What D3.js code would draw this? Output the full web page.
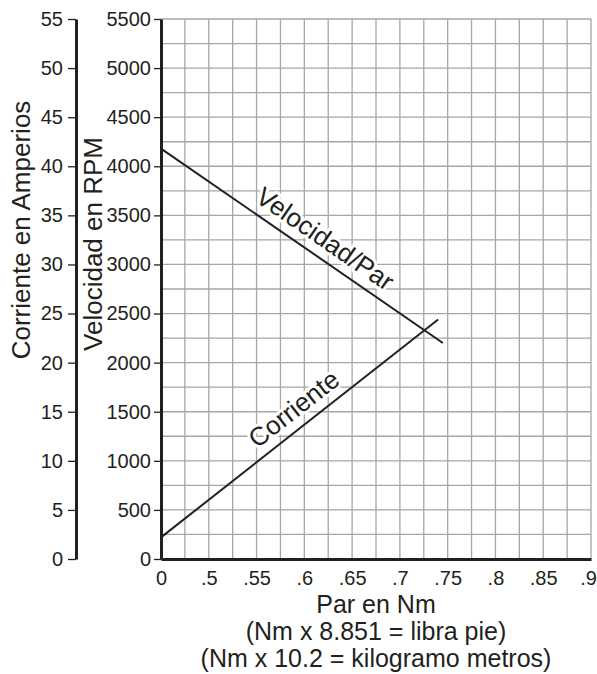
<!DOCTYPE html>
<html>
<head>
<meta charset="utf-8">
<script src="https://cdn.jsdelivr.net/npm/d3@7"></script>
<style>
  body { margin: 0; background: #fff; }
  text { font-family: "Liberation Sans", Arial, Helvetica, sans-serif; fill: #231f20; }
</style>
</head>
<body>
<div id="viz-container"></div>
<script>
const width = 597;
const height = 674;

// x axis is broken between 0 and .5
const xTickValues = [0, 0.5, 0.55, 0.6, 0.65, 0.7, 0.75, 0.8, 0.85, 0.9];
const xTickLabels = ["0", ".5", ".55", ".6", ".65", ".7", ".75", ".8", ".85", ".9"];
const ampTicks = [0, 5, 10, 15, 20, 25, 30, 35, 40, 45, 50, 55];
const rpmTicks = [0, 500, 1000, 1500, 2000, 2500, 3000, 3500, 4000, 4500, 5000, 5500];

// Velocidad/Par line (Nm -> RPM)
const speedTorque = [0, 0.745];
const speedRpm = [4180, 2200];
// Corriente line (Nm -> A)
const currentTorque = [0, 0.74];
const currentAmps = [2.2, 24.4];

const plot = { left: 161, right: 591, top: 19, bottom: 559 };
const cell = (plot.right - plot.left) / 18;

const x = d3
  .scaleLinear()
  .domain([0, 0.5, 0.9])
  .range([plot.left, plot.left + 2 * cell, plot.right]);
const yAmp = d3.scaleLinear().domain([0, 55]).range([plot.bottom, plot.top]);
const yRpm = d3.scaleLinear().domain([0, 5500]).range([plot.bottom, plot.top]);

const svg = d3
  .select("#viz-container")
  .append("svg")
  .attr("width", width)
  .attr("height", height);

// grid
const gridX = [0, 0.25].concat(d3.range(0.5, 0.9001, 0.025));
const gridY = d3.range(0, 5501, 250);

svg
  .append("g")
  .selectAll("line")
  .data(gridX)
  .join("line")
  .attr("x1", (d) => x(d))
  .attr("x2", (d) => x(d))
  .attr("y1", plot.top)
  .attr("y2", plot.bottom)
  .attr("stroke", "#a6a6a6")
  .attr("stroke-width", 1.3);

svg
  .append("g")
  .selectAll("line")
  .data(gridY)
  .join("line")
  .attr("x1", plot.left)
  .attr("x2", plot.right)
  .attr("y1", (d) => yRpm(d))
  .attr("y2", (d) => yRpm(d))
  .attr("stroke", "#a6a6a6")
  .attr("stroke-width", 1.3);

// axes
function styleAxis(g, fontSize) {
  g.select(".domain").attr("stroke", "#231f20").attr("stroke-width", 3);
  g.selectAll(".tick line").attr("stroke", "#231f20").attr("stroke-width", 1.3);
  g.selectAll("text")
    .attr("font-size", fontSize)
    .attr("font-family", "'Liberation Sans', Arial, sans-serif")
    .attr("fill", "#231f20");
}

svg
  .append("g")
  .attr("transform", `translate(76,0)`)
  .call(d3.axisLeft(yAmp).tickValues(ampTicks).tickFormat(d3.format("d")).tickSize(8).tickSizeOuter(0).tickPadding(5))
  .call((g) => styleAxis(g, 20));

svg
  .append("g")
  .attr("transform", `translate(${plot.left},0)`)
  .call(d3.axisLeft(yRpm).tickValues(rpmTicks).tickFormat(d3.format("d")).tickSize(7).tickSizeOuter(0).tickPadding(3))
  .call((g) => styleAxis(g, 20));

svg
  .append("g")
  .attr("transform", `translate(0,${plot.bottom})`)
  .call(
    d3
      .axisBottom(x)
      .tickValues(xTickValues)
      .tickFormat((d, i) => xTickLabels[i])
      .tickSize(0)
      .tickSizeOuter(0)
      .tickPadding(12),
  )
  .call((g) => styleAxis(g, 20))
  .call((g) => g.selectAll(".tick:last-of-type text").attr("dx", -3));

// lines
const speedLine = d3
  .line()
  .x((d) => x(d[0]))
  .y((d) => yRpm(d[1]));
const currentLine = d3
  .line()
  .x((d) => x(d[0]))
  .y((d) => yAmp(d[1]));

svg
  .append("path")
  .datum(d3.zip(speedTorque, speedRpm))
  .attr("d", speedLine)
  .attr("fill", "none")
  .attr("stroke", "#231f20")
  .attr("stroke-width", 2);

svg
  .append("path")
  .datum(d3.zip(currentTorque, currentAmps))
  .attr("d", currentLine)
  .attr("fill", "none")
  .attr("stroke", "#231f20")
  .attr("stroke-width", 2);

// labels along the lines
function lineLabel(xs, ys, yScale, t, offset, label) {
  const x0 = x(xs[0]), y0 = yScale(ys[0]);
  const x1 = x(xs[1]), y1 = yScale(ys[1]);
  const ang = Math.atan2(y1 - y0, x1 - x0);
  const px = x0 + (x1 - x0) * t, py = y0 + (y1 - y0) * t;
  const nx = Math.sin(ang) * offset, ny = -Math.cos(ang) * offset;
  svg
    .append("text")
    .attr("transform", `translate(${px + nx},${py + ny}) rotate(${(ang * 180) / Math.PI})`)
    .attr("font-size", 26)
    .attr("stroke", "#fff")
    .attr("stroke-width", 6)
    .attr("stroke-linejoin", "round")
    .attr("paint-order", "stroke")
    .text(label);
}

lineLabel(speedTorque, speedRpm, yRpm, 0.31, 10, "Velocidad/Par");
lineLabel(currentTorque, currentAmps, yAmp, 0.37, 10, "Corriente");

// axis titles
svg
  .append("text")
  .attr("transform", "translate(30,230) rotate(-90)")
  .attr("text-anchor", "middle")
  .attr("font-size", 26)
  .text("Corriente en Amperios");

svg
  .append("text")
  .attr("transform", "translate(102,244) rotate(-90)")
  .attr("text-anchor", "middle")
  .attr("font-size", 26)
  .text("Velocidad en RPM");

const xTitles = ["Par en Nm", "(Nm x 8.851 = libra pie)", "(Nm x 10.2 = kilogramo metros)"];
svg
  .append("g")
  .selectAll("text")
  .data(xTitles)
  .join("text")
  .attr("x", (plot.left + plot.right) / 2)
  .attr("y", (d, i) => 613 + i * 27)
  .attr("text-anchor", "middle")
  .attr("font-size", 25)
  .text((d) => d);
</script>
</body>
</html>
